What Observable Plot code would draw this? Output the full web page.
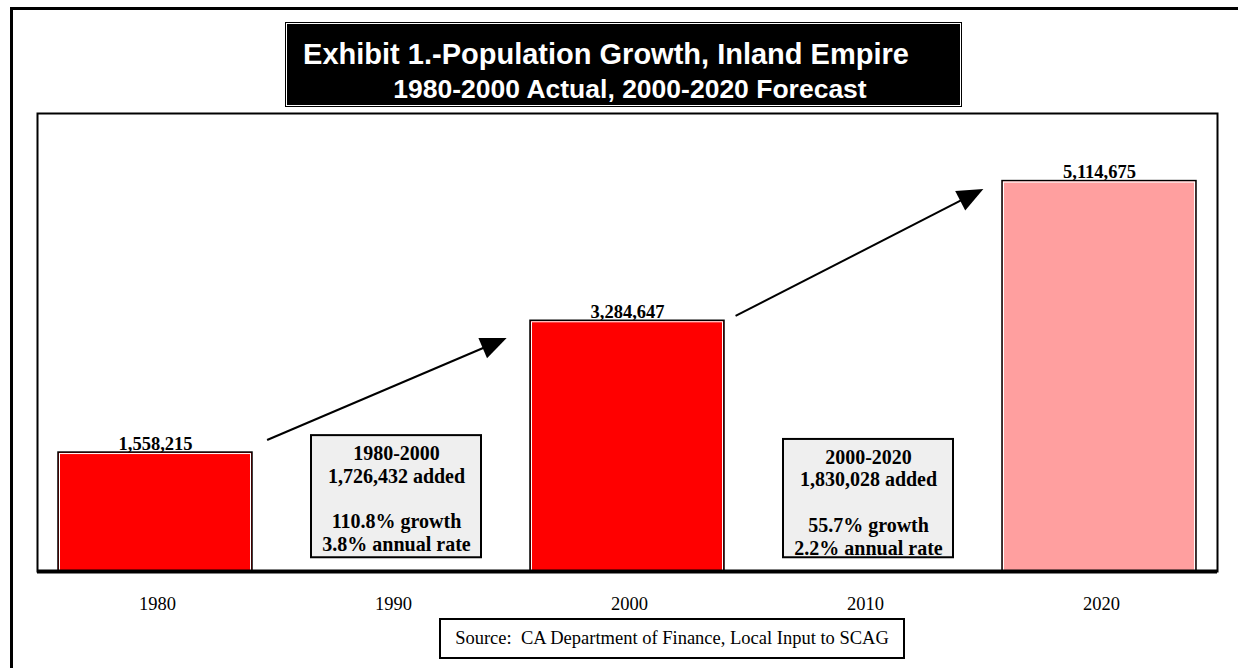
<!DOCTYPE html>
<html><head><meta charset="utf-8">
<script src="https://cdn.jsdelivr.net/npm/d3@7"></script>
<script src="https://cdn.jsdelivr.net/npm/@observablehq/plot@0.6"></script>
<style>
body{margin:0;background:#fff;}
#page{position:relative;width:1238px;height:668px;overflow:hidden;background:#fff;}
#outer{position:absolute;left:10px;top:7px;width:1300px;height:760px;border:3px solid #000;}
#chart{position:absolute;left:0;top:0;}
#titlebox{position:absolute;left:285px;top:22px;width:677px;height:85px;box-sizing:border-box;background:#000;border:1px solid #000;box-shadow:inset 0 0 0 1px #fff;}
.t{position:absolute;white-space:nowrap;color:#fff;font-family:"Liberation Sans",Arial,sans-serif;font-weight:bold;line-height:1;}
#title{left:606px;top:54px;font-size:29px;transform:translate(-50%,-50%);}
#subtitle{left:630px;top:89px;font-size:25px;transform:translate(-50%,-50%) scaleX(1.06);}
#source{position:absolute;left:439px;top:618px;width:466px;height:41px;box-sizing:border-box;border:2px solid #000;background:#fff;font-family:"Liberation Serif","Times New Roman",serif;font-size:18.5px;display:flex;align-items:center;justify-content:center;white-space:pre;color:#000;}
</style>
</head>
<body>
<div id="page">
  <div id="outer"></div>
  <div id="chart"></div>
  <div id="titlebox"></div>
  <div class="t" id="title">Exhibit 1.-Population Growth, Inland Empire</div>
  <div class="t" id="subtitle">1980-2000 Actual, 2000-2020 Forecast</div>
  <div id="source">Source:  CA Department of Finance, Local Input to SCAG</div>
</div>
<script>
// ---- data ----
const years = ["1980", "1990", "2000", "2010", "2020"];
const barYears = ["1980", "2000", "2020"];
const population = [1558215, 3284647, 5114675];
const barColors = ["#ff0000", "#ff0000", "#ff9f9f"];

const periodYears = ["1990", "2010"];
const periodLabels = [
  "1980-2000\n1,726,432 added\n\n110.8% growth\n3.8% annual rate",
  "2000-2020\n1,830,028 added\n\n55.7% growth\n2.2% annual rate"
];
const boxTop = [1780000, 1730000];
const boxBottom = [180000, 180000];

const arrowFromYear = [1984.75, 2004.6];
const arrowFromValue = [1716000, 3341000];
const arrowToYear = [1994.9, 2015.1];
const arrowToValue = [3053000, 5005000];

// ---- tables ----
const bars = barYears.map((y, i) => ({year: y, pop: population[i], color: barColors[i]}));
const boxes = periodYears.map((y, i) => ({year: y, top: boxTop[i], bottom: boxBottom[i], label: periodLabels[i]}));
const arrows = arrowFromYear.map((x, i) => ({x1: x, y1: arrowFromValue[i], x2: arrowToYear[i], y2: arrowToValue[i]}));

const serif = "Liberation Serif, Times New Roman, serif";

function arrowRender(index, scales) {
  const x = scales.x, y = scales.y;
  const step = x("1990") - x("1980");
  const c0 = x("1980") + step / 2;
  const px = yr => c0 + (yr - 1980) / 10 * step;
  const g = d3.create("svg:g");
  for (const a of arrows) {
    const X1 = px(a.x1), Y1 = y(a.y1), X2 = px(a.x2), Y2 = y(a.y2);
    const dx = X2 - X1, dy = Y2 - Y1, len = Math.hypot(dx, dy);
    const ux = dx / len, uy = dy / len;
    const L = 26, W = 11;
    const bx = X2 - ux * L, by = Y2 - uy * L;
    g.append("line")
      .attr("x1", X1).attr("y1", Y1)
      .attr("x2", bx + ux * 3).attr("y2", by + uy * 3)
      .attr("stroke", "#000").attr("stroke-width", 2);
    g.append("path")
      .attr("d", `M${X2},${Y2}L${bx - uy * W},${by + ux * W}L${bx + uy * W},${by - ux * W}Z`)
      .attr("fill", "#000");
  }
  return g.node();
}

const chart = Plot.plot({
  width: 1238,
  height: 668,
  marginLeft: 37,
  marginRight: 21,
  marginTop: 113,
  marginBottom: 97,
  style: {background: "transparent", fontFamily: serif, color: "#000"},
  x: {domain: years, padding: 0, label: null},
  y: {domain: [0, 6000000], axis: null},
  color: {type: "identity"},
  marks: [
    Plot.frame({stroke: "#000", strokeWidth: 2}),
    Plot.barY(bars, {x: "year", y: "pop", fill: "color", stroke: "#000", strokeWidth: 1.5, insetLeft: 21, insetRight: 21}),
    Plot.barY(bars, {x: "year", y: "pop", fill: "none", stroke: "#fff", strokeWidth: 1, insetLeft: 22.5, insetRight: 22.5, insetTop: 1.5}),
    Plot.text(bars, {x: "year", y: "pop", text: d => d3.format(",")(d.pop), lineAnchor: "bottom", dy: -3, fontSize: 18.5, fontWeight: "bold", fontFamily: serif, fill: "#000"}),
    Plot.barY(boxes, {x: "year", y1: "bottom", y2: "top", fill: "#efefef", stroke: "#000", strokeWidth: 2, insetLeft: 38, insetRight: 28}),
    Plot.text(boxes, {x: "year", y: "top", text: "label", lineAnchor: "top", dy: 8, dx: 5, fontSize: 20, fontWeight: "bold", lineHeight: 1.14, fontFamily: serif, fill: "#000"}),
    arrowRender,
    Plot.ruleY([0], {stroke: "#000", strokeWidth: 4}),
    Plot.axisX({tickSize: 0, tickPadding: 25, fontSize: 18.5, fontFamily: serif, fill: "#000", dx: 2, label: null})
  ]
});
document.getElementById("chart").appendChild(chart);
</script>
</body></html>
